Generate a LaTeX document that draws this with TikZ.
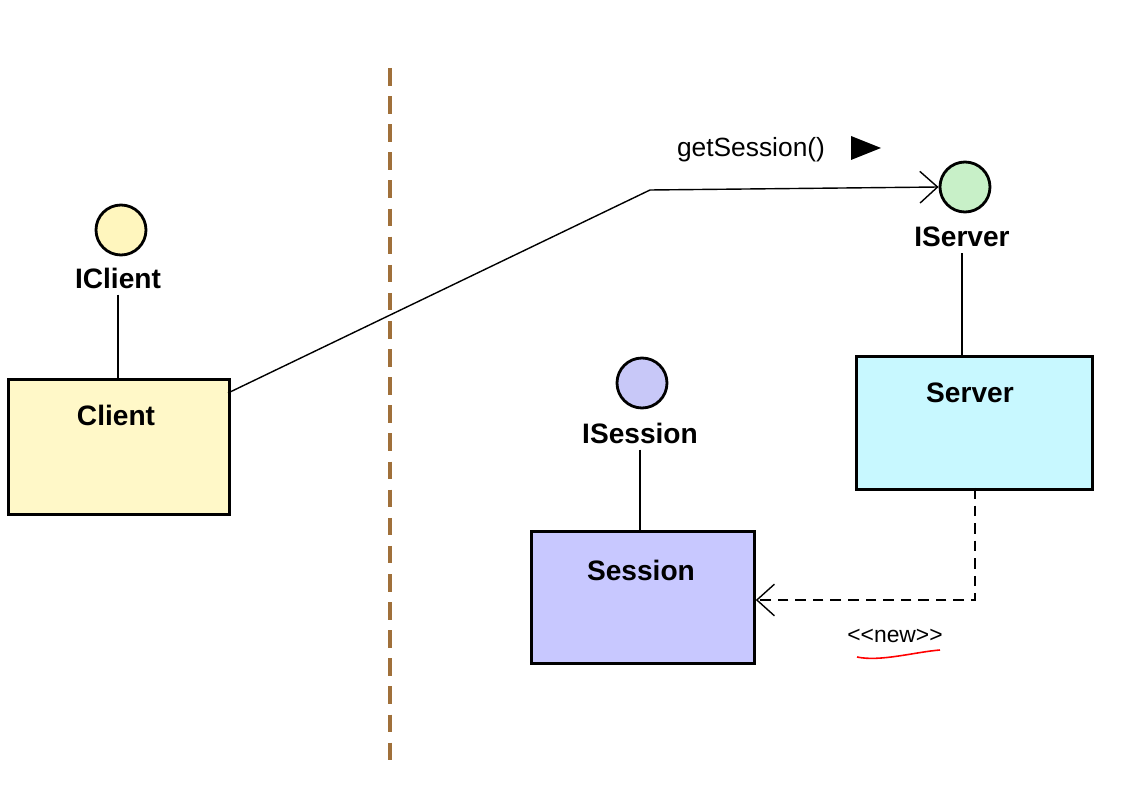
\documentclass[tikz,border=0pt]{standalone}
\usepackage{fontspec}
\setmainfont{Liberation Sans}
\usetikzlibrary{arrows.meta}
\definecolor{brn}{HTML}{A0703A}
\begin{document}
\begin{tikzpicture}[x=0.02cm,y=-0.02cm,
  iface/.style={circle,draw,line width=1.6pt,minimum size=50*0.02cm,inner sep=0},
  cls/.style={draw,line width=1.6pt,anchor=north west,inner sep=0},
  lbl/.style={font=\fontsize{16}{19}\selectfont\bfseries},
  con/.style={line width=0.8pt},
  arr/.style={-{Straight Barb[length=10pt,width=18pt,line width=0.8pt]}}]
\useasboundingbox (0,0) rectangle (1134,787);
\draw[brn,line width=2pt,dash pattern=on 10pt off 6pt] (390,68) coordinate (d1) -- (390,760) coordinate (d2);
% IClient / Client
\node[iface,fill={rgb,255:red,255;green,246;blue,190}] (ic) at (121,230) {};
\node[lbl] (icl) at (118,278) {IClient};
\node[cls,fill={rgb,255:red,255;green,248;blue,200},minimum width=221*0.02cm,minimum height=135*0.02cm] (client) at (7,378) {};
\node[lbl] at (116,415) {Client};
\draw[con] (icl.south) -- (client.north -| icl.south);
% IServer / Server
\node[iface,fill={rgb,255:red,200;green,240;blue,200}] (is) at (965,187) {};
\node[lbl] (isl) at (962,237) {IServer};
\node[cls,fill={rgb,255:red,200;green,248;blue,255},minimum width=236*0.02cm,minimum height=133*0.02cm] (server) at (855,355) {};
\node[lbl] at (970,393) {Server};
\draw[con] (isl.south) -- (server.north -| isl.south);
% ISession / Session
\node[iface,fill={rgb,255:red,200;green,200;blue,248}] (iss) at (642,383) {};
\node[lbl] (issl) at (640,433) {ISession};
\node[cls,fill={rgb,255:red,200;green,200;blue,255},minimum width=223*0.02cm,minimum height=132*0.02cm] (session) at (530,530) {};
\node[lbl] at (641,570) {Session};
\draw[con] (issl.south) -- (session.north -| issl.south);
% getSession
\coordinate (b1) at (650,190);
\draw[con,arr] (228,393) -- (b1) -- (is.west);
\node[font=\fontsize{15}{18}\selectfont] (gs) at (751,150) {getSession()};
\fill (851,136) -- (881,148) -- (851,160) -- cycle;
% new
\coordinate (b2) at (975,600);
\draw[con,arr,dash pattern=on 6pt off 4pt] (975,488) -- (b2) -- (session.east |- b2);
\node[font=\fontsize{13}{16}\selectfont] (nw) at (895,636) {<{}<new>{}>};
\draw[red,line width=0.9pt] (857,657) .. controls (880,662) and (915,652) .. (940,650);
\end{tikzpicture}
\end{document}
